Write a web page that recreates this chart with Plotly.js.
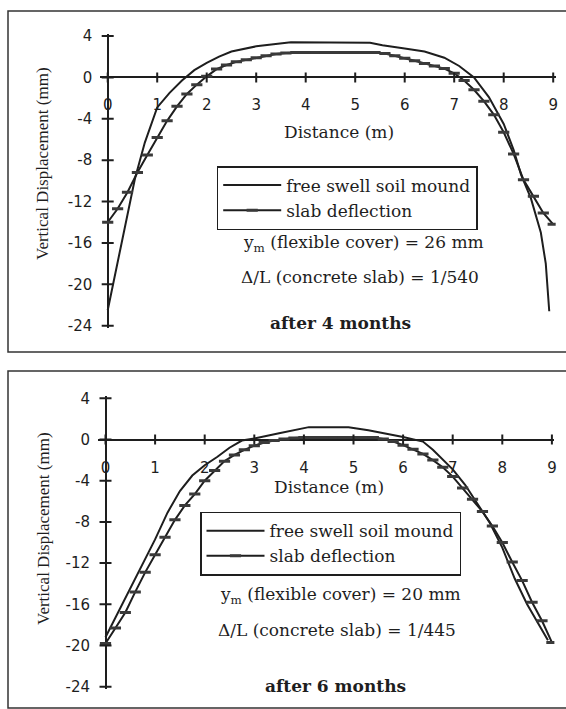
<!DOCTYPE html>
<html>
<head>
<meta charset="utf-8">
<script src="https://cdn.plot.ly/plotly-3.0.1.min.js"></script>
<style>html,body{margin:0;padding:0;background:#fff;}#chart{width:566px;height:709px;}</style>
</head>
<body>
<div id="chart"></div>
<script>
// ---- data ----
const xTicks = [0, 1, 2, 3, 4, 5, 6, 7, 8, 9];
const yTicks = [4, 0, -4, -8, -12, -16, -20, -24];
const seriesNames = ["free swell soil mound", "slab deflection"];

// Panel 1: after 4 months
const mound4X = [0, 0.55, 0.75, 1.0, 1.25, 1.5, 1.75, 2.0, 2.25, 2.5, 3.0, 3.5, 3.7, 5.3, 5.55, 6.0, 6.4, 6.8, 7.1, 7.4, 7.7, 8.0, 8.2, 8.35, 8.55, 8.75, 8.85, 8.92];
const mound4Y = [-22.5, -9.8, -6.3, -2.9, -1.5, -0.3, 0.7, 1.4, 2.0, 2.5, 3.0, 3.3, 3.4, 3.35, 3.1, 2.8, 2.5, 1.9, 1.1, 0.0, -1.9, -4.5, -7.0, -9.4, -11.7, -15.0, -18.0, -22.6];
const slab4X = [0, 0.2, 0.4, 0.6, 0.8, 1.0, 1.2, 1.4, 1.6, 1.8, 2.0, 2.2, 2.4, 2.6, 2.8, 3.0, 3.2, 3.4, 3.6, 3.8, 4.0, 4.2, 4.4, 4.6, 4.8, 5.0, 5.2, 5.4, 5.6, 5.8, 6.0, 6.2, 6.4, 6.6, 6.8, 7.0, 7.2, 7.4, 7.6, 7.8, 8.0, 8.2, 8.4, 8.6, 8.8, 9.0];
const slab4Y = [-14.0, -12.7, -11.1, -9.2, -7.5, -5.8, -4.2, -2.8, -1.6, -0.7, 0.1, 0.8, 1.2, 1.5, 1.7, 1.9, 2.1, 2.25, 2.35, 2.4, 2.4, 2.4, 2.4, 2.4, 2.4, 2.4, 2.4, 2.4, 2.3, 2.1, 1.85, 1.6, 1.35, 1.1, 0.85, 0.4, -0.3, -1.2, -2.3, -3.6, -5.3, -7.4, -9.9, -11.5, -13.1, -14.2];

// Panel 2: after 6 months
const mound6X = [0, 0.5, 1.0, 1.25, 1.5, 1.75, 2.0, 2.25, 2.5, 2.75, 3.0, 3.5, 3.9, 4.1, 4.9, 5.3, 6.0, 6.4, 6.6, 7.0, 7.25, 7.5, 7.75, 8.0, 8.25, 8.5, 8.75, 8.92];
const mound6Y = [-19.2, -14.4, -9.7, -7.1, -5.0, -3.5, -2.5, -1.7, -0.8, -0.1, 0.1, 0.6, 1.0, 1.2, 1.2, 0.9, 0.25, -0.2, -1.0, -2.9, -4.4, -6.2, -8.1, -10.5, -13.5, -16.0, -18.0, -19.5];
const slab6X = [0, 0.2, 0.4, 0.6, 0.8, 1.0, 1.2, 1.4, 1.6, 1.8, 2.0, 2.2, 2.4, 2.6, 2.8, 3.0, 3.2, 3.4, 3.6, 3.8, 4.0, 4.2, 4.4, 4.6, 4.8, 5.0, 5.2, 5.4, 5.6, 5.8, 6.0, 6.2, 6.4, 6.6, 6.8, 7.0, 7.2, 7.4, 7.6, 7.8, 8.0, 8.2, 8.4, 8.6, 8.8, 9.0];
const slab6Y = [-19.8, -18.3, -16.8, -14.8, -12.9, -11.2, -9.5, -7.8, -6.4, -5.3, -4.0, -3.0, -2.1, -1.5, -1.0, -0.6, -0.3, -0.1, 0.05, 0.15, 0.2, 0.2, 0.2, 0.2, 0.2, 0.2, 0.2, 0.2, 0.05, -0.2, -0.55, -0.95, -1.4, -2.0, -2.7, -3.6, -4.7, -5.8, -7.0, -8.4, -10.0, -11.9, -13.7, -15.8, -17.6, -19.7];

const notes4 = ["y<sub>m</sub> (flexible cover) = 26 mm", "\u0394/L (concrete slab) = 1/540", "<b>after 4 months</b>"];
const notes6 = ["y<sub>m</sub> (flexible cover) = 20 mm", "\u0394/L (concrete slab) = 1/445", "<b>after 6 months</b>"];
const yTitle = "Vertical Displacement (mm)";
const xTitle = "Distance (m)";

// ---- styling ----
const W = 566, H = 709;
const ink = "#1e1e1e";
const serif = "DejaVu Serif, serif";
const tickFont = {family: "DejaVu Sans, sans-serif", size: 15, color: ink};
const px = v => v / W;
const py = v => 1 - v / H;
const xRange = [-0.15, 9.05];
const yRange = [-24.2, 4.2];
const tickHalfPx = {y: 6, x: 5};

// panel geometry (pixels): position of x=0, pixels per metre, pixel of y=4 and y=-24
const panels = [
  {x0: 107.7, ppx: 49.5, yTop: 36, yBot: 325.7},
  {x0: 105.5, ppx: 49.6, yTop: 398.3, yBot: 686.7}
];
panels.forEach(p => {
  p.ppy = (p.yBot - p.yTop) / (yTicks[0] - yTicks[yTicks.length - 1]);
  p.xdom = [px(p.x0 + xRange[0] * p.ppx), px(p.x0 + xRange[1] * p.ppx)];
  p.ydom = [py(p.yBot + (yTicks[yTicks.length - 1] - yRange[0]) * p.ppy), py(p.yTop - (yRange[1] - yTicks[0]) * p.ppy)];
  p.zeroPos = py(p.yTop + yTicks[0] * p.ppy);
});

function curveTraces(xa, ya, mx, my, sx, sy, legendId) {
  return [
    {x: mx, y: my, xaxis: xa, yaxis: ya, type: "scatter", mode: "lines", name: seriesNames[0],
     line: {color: ink, width: 2}, legend: legendId},
    {x: sx, y: sy, xaxis: xa, yaxis: ya, type: "scatter", mode: "lines+markers", name: seriesNames[1],
     line: {color: ink, width: 2}, marker: {symbol: "line-ew", size: 8, color: "#3a3a3a", line: {width: 3, color: "#3a3a3a"}},
     legend: legendId}
  ];
}

// crossing tick marks built from the tick arrays
function tickTraces(xa, ya, p) {
  const hx = tickHalfPx.y / p.ppx, hy = tickHalfPx.x / p.ppy;
  const yx = [], yy = [], xx = [], xy = [];
  yTicks.forEach(t => { yx.push(-hx, hx, null); yy.push(t, t, null); });
  xTicks.forEach(t => { xx.push(t, t, null); xy.push(-hy, hy, null); });
  return [
    {x: yx, y: yy, xaxis: xa, yaxis: ya, type: "scatter", mode: "lines", showlegend: false, line: {color: ink, width: 2}},
    {x: xx, y: xy, xaxis: xa, yaxis: ya, type: "scatter", mode: "lines", showlegend: false, line: {color: ink, width: 2}}
  ];
}

const data = [
  ...curveTraces("x", "y", mound4X, mound4Y, slab4X, slab4Y, "legend"),
  ...tickTraces("x", "y", panels[0]),
  ...curveTraces("x2", "y2", mound6X, mound6Y, slab6X, slab6Y, "legend2"),
  ...tickTraces("x2", "y2", panels[1])
];

function xAxis(p) {
  return {domain: p.xdom, range: xRange, anchor: "free", position: p.zeroPos,
    tickvals: xTicks, ticktext: xTicks.map(String), ticks: "", ticklabelstandoff: 17,
    showline: false, showgrid: false, zeroline: true, zerolinecolor: ink, zerolinewidth: 2, tickfont: tickFont};
}
function yAxis(p, xa) {
  return {domain: p.ydom, range: yRange, anchor: xa,
    tickvals: yTicks, ticktext: yTicks.map(String), ticks: "", ticklabelstandoff: 7,
    showline: false, showgrid: false, zeroline: true, zerolinecolor: ink, zerolinewidth: 2, tickfont: tickFont};
}

function notes(list, ys, xs) {
  return list.map((t, i) => ({text: t, xref: "paper", yref: "paper", x: px(xs[i]), y: py(ys[i]),
    xanchor: "center", yanchor: "middle", showarrow: false,
    font: {family: serif, size: 17, color: ink}}));
}

const legendStyle = (x, y) => ({x: px(x), y: py(y), xanchor: "left", yanchor: "top", bgcolor: "#fff",
  bordercolor: ink, borderwidth: 1.5, font: {family: serif, size: 17, color: ink}, itemwidth: 58, tracegroupgap: 0});

const layout = {
  width: W, height: H, margin: {l: 0, r: 0, t: 0, b: 0},
  paper_bgcolor: "#fff", plot_bgcolor: "#fff", showlegend: true,
  xaxis: xAxis(panels[0]),
  yaxis: yAxis(panels[0], "x"),
  xaxis2: xAxis(panels[1]),
  yaxis2: yAxis(panels[1], "x2"),
  legend: legendStyle(216.7, 166),
  legend2: legendStyle(200, 511.7),
  shapes: [
    {type: "rect", xref: "paper", yref: "paper", x0: px(8), x1: 1.02, y0: py(352), y1: py(11), fillcolor: "rgba(0,0,0,0)", line: {color: "#333", width: 1.5}},
    {type: "rect", xref: "paper", yref: "paper", x0: px(8), x1: 1.02, y0: py(708), y1: py(371), fillcolor: "rgba(0,0,0,0)", line: {color: "#333", width: 1.5}}
  ],
  annotations: [
    ...notes(notes4, [243, 277, 323], [363, 360, 340]),
    ...notes(notes6, [595, 630, 686], [340, 337, 335]),
    {text: xTitle, xref: "paper", yref: "paper", x: px(339), y: py(132), showarrow: false,
     xanchor: "center", yanchor: "middle", font: {family: serif, size: 17, color: ink}},
    {text: xTitle, xref: "paper", yref: "paper", x: px(329), y: py(487), showarrow: false,
     xanchor: "center", yanchor: "middle", font: {family: serif, size: 17, color: ink}},
    {text: yTitle, xref: "paper", yref: "paper", x: px(43), y: py(164), textangle: -90, showarrow: false,
     xanchor: "center", yanchor: "middle", font: {family: "Liberation Serif, serif", size: 17, color: ink}},
    {text: yTitle, xref: "paper", yref: "paper", x: px(43), y: py(529), textangle: -90, showarrow: false,
     xanchor: "center", yanchor: "middle", font: {family: "Liberation Serif, serif", size: 17, color: ink}}
  ]
};

Plotly.newPlot("chart", data, layout, {staticPlot: true, displayModeBar: false});
</script>
</body>
</html>
